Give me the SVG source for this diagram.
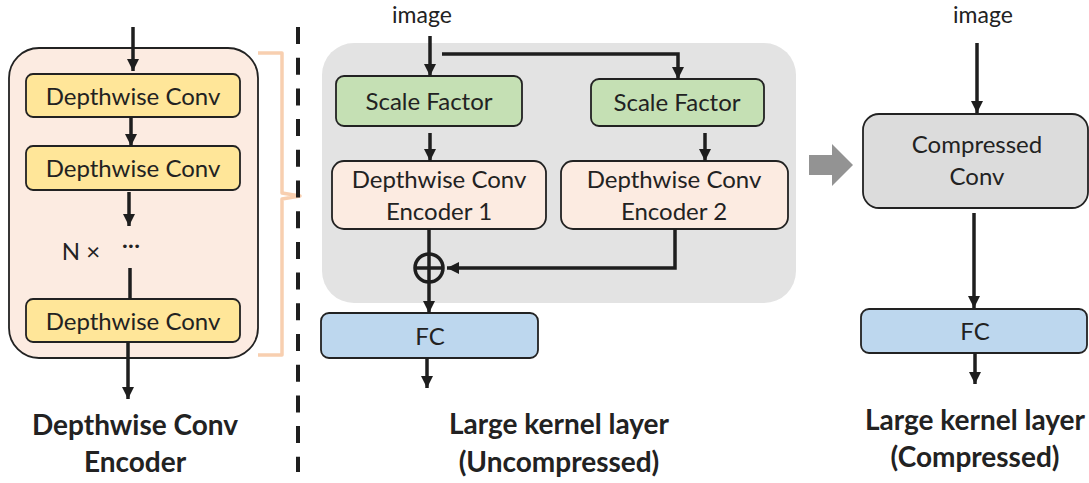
<svg xmlns="http://www.w3.org/2000/svg" width="1089" height="483" viewBox="0 0 1089 483">
  <defs>
    <marker id="ah" markerUnits="userSpaceOnUse" viewBox="0 0 12 12" refX="12" refY="6" markerWidth="12" markerHeight="12" orient="auto">
      <path d="M0,0 L12,6 L0,12 z" fill="#1e1e1e"/>
    </marker>
    <style>
      text { font-family: Lato, "Open Sans", sans-serif; fill: #222; text-anchor: middle; }
      .t { font-size: 24px; }
      .img { font-size: 23px; }
      .b { font-size: 28px; font-weight: bold; }
      .box { stroke: #222; stroke-width: 1.8; }
      .yel { fill: #ffe699; }
      .peach { fill: #fcebe1; }
      .green { fill: #c5e0b4; }
      .blue { fill: #bdd7ee; }
      .edge { stroke: #1e1e1e; stroke-width: 3.5; fill: none; }
      .arr { marker-end: url(#ah); }
    </style>
  </defs>

  <!-- Depthwise Conv Encoder -->
  <g id="encoder">
    <rect x="9" y="48" width="249" height="310" rx="30" class="box peach"/>
    <g id="dw1"><rect x="26" y="74" width="214" height="43" rx="7" class="box yel"/><text x="133" y="105" class="t">Depthwise Conv</text></g>
    <g id="dw2"><rect x="26" y="146" width="214" height="44" rx="7" class="box yel"/><text x="133" y="177" class="t">Depthwise Conv</text></g>
    <g id="dw3"><rect x="26" y="299" width="214" height="43" rx="7" class="box yel"/><text x="133" y="330" class="t">Depthwise Conv</text></g>
    <text x="81" y="260" class="t">N ×</text>
    <text x="131" y="253" class="t">···</text>
  </g>
  <text x="135" y="435" class="b">Depthwise Conv</text>
  <text x="135" y="472" class="b">Encoder</text>

  <!-- brace and divider -->
  <path d="M258,53 H282 V193 L300,196 L282,199 V355 H258" fill="none" stroke="#f8cfb0" stroke-width="3.5" stroke-linejoin="round"/>
  <line x1="298" y1="27" x2="298" y2="472" stroke="#1e1e1e" stroke-width="4" stroke-dasharray="17 13.7"/>

  <!-- Large kernel layer (Uncompressed) -->
  <g id="uncompressed">
    <rect x="322" y="43" width="474" height="260" rx="32" fill="#e3e3e3"/>
  </g>
  <text x="422" y="23" class="img">image</text>
  <g id="sf1"><rect x="336" y="76" width="186" height="50" rx="8" class="box green"/><text x="429" y="110" class="t">Scale Factor</text></g>
  <g id="sf2"><rect x="591" y="79" width="173" height="47" rx="8" class="box green"/><text x="677" y="111" class="t">Scale Factor</text></g>
  <g id="enc1"><rect x="332" y="161" width="214" height="68" rx="12" class="box peach"/><text x="439" y="188" class="t">Depthwise Conv</text><text x="439" y="220" class="t">Encoder 1</text></g>
  <g id="enc2"><rect x="561" y="161" width="227" height="68" rx="12" class="box peach"/><text x="674" y="188" class="t">Depthwise Conv</text><text x="674" y="220" class="t">Encoder 2</text></g>
  <g id="add">
    <circle cx="429" cy="268" r="14" fill="none" stroke="#1e1e1e" stroke-width="3.5"/>
    <line x1="415" y1="268" x2="443" y2="268" stroke="#1e1e1e" stroke-width="3.5"/>
  </g>
  <g id="fc1"><rect x="321" y="313" width="217" height="45" rx="8" class="box blue"/><text x="430" y="345" class="t">FC</text></g>
  <text x="559" y="434" class="b">Large kernel layer</text>
  <text x="559" y="472" class="b">(Uncompressed)</text>

  <!-- transition arrow -->
  <polygon id="to-compressed" points="809,155 832,155 832,144 853,165 832,186 832,175 809,175" fill="#939393"/>

  <!-- Large kernel layer (Compressed) -->
  <text x="983" y="23" class="img">image</text>
  <g id="cconv"><rect x="863" y="114" width="225" height="94" rx="16" class="box" fill="#dcdcdc"/><text x="977" y="153" class="t">Compressed</text><text x="977" y="185" class="t">Conv</text></g>
  <g id="fc2"><rect x="861" y="309" width="226" height="44" rx="8" class="box blue"/><text x="975" y="340" class="t">FC</text></g>
  <text x="975" y="430" class="b">Large kernel layer</text>
  <text x="975" y="467" class="b">(Compressed)</text>

  <!-- connectors -->
  <g id="connectors" class="edge">
    <line x1="133" y1="27" x2="133" y2="71" class="arr"/>
    <line x1="131" y1="117" x2="131" y2="146" class="arr"/>
    <line x1="129" y1="192" x2="129" y2="226" class="arr"/>
    <line x1="130" y1="268" x2="130" y2="299"/>
    <line x1="128" y1="342" x2="128" y2="399" class="arr"/>
    <line x1="430" y1="36" x2="430" y2="76" class="arr"/>
    <polyline points="442,54 678,54 678,79" class="arr"/>
    <line x1="430" y1="133" x2="430" y2="161" class="arr"/>
    <line x1="705" y1="133" x2="705" y2="161" class="arr"/>
    <line x1="429" y1="229" x2="429" y2="282"/>
    <line x1="429" y1="282" x2="429" y2="313" class="arr"/>
    <polyline points="675,229 675,268 447,268" class="arr"/>
    <line x1="427" y1="358" x2="427" y2="388" class="arr"/>
    <line x1="977" y1="43" x2="977" y2="113" class="arr"/>
    <line x1="974" y1="213" x2="974" y2="308" class="arr"/>
    <line x1="975" y1="353" x2="975" y2="384" class="arr"/>
  </g>
</svg>
